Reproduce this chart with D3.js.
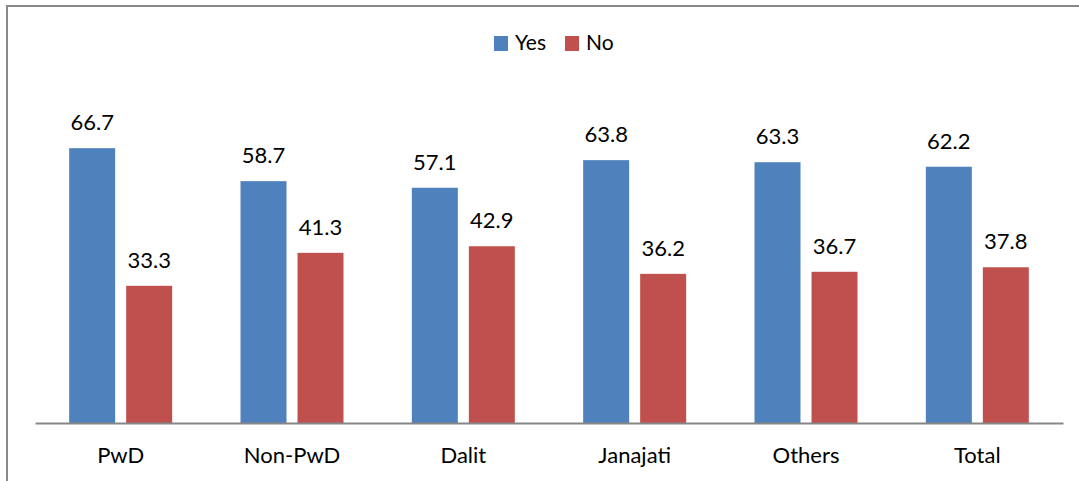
<!DOCTYPE html>
<html>
<head>
<meta charset="utf-8">
<script src="https://cdn.jsdelivr.net/npm/d3@7"></script>
<style>
  body { margin: 0; background: #fff; }
  svg { display: block; font-family: Lato, "Open Sans", sans-serif; }
</style>
</head>
<body>
<svg id="chart" width="1079" height="481"></svg>
<script>
// chart data
const categories = ['PwD', 'Non-PwD', 'Dalit', 'Janajati', 'Others', 'Total'];
const seriesNames = ['Yes', 'No'];
const yesValues = [66.7, 58.7, 57.1, 63.8, 63.3, 62.2];
const noValues = [33.3, 41.3, 42.9, 36.2, 36.7, 37.8];
const colors = ['#4F81BD', '#C0504D'];

const svg = d3.select('#chart');

// outer frame (right and bottom edges fall outside the picture)
svg.append('path')
  .attr('d', 'M7,500 V6 H1085')
  .attr('fill', 'none')
  .attr('stroke', '#898989')
  .attr('stroke-width', 2);

const baseY = 423;
const x0 = d3.scaleBand().domain(categories).range([35, 1063]).paddingInner(0).paddingOuter(0);
const barW = 46, barGap = 11;
const y = d3.scaleLinear().domain([0, 80]).range([baseY, baseY - 80 * 4.12]);

const rows = categories.map((c, i) => ({ cat: c, vals: [yesValues[i], noValues[i]] }));

const groups = svg.selectAll('.grp')
  .data(rows)
  .enter()
  .append('g')
  .attr('class', 'grp')
  .attr('transform', d => `translate(${x0(d.cat) + x0.bandwidth() / 2},0)`);

const bars = groups.selectAll('.bar')
  .data(d => d.vals.map((v, k) => ({ v, k })))
  .enter();

const barX = k => k === 0 ? -(barW + barGap / 2) : barGap / 2;

bars.append('rect')
  .attr('x', d => barX(d.k))
  .attr('y', d => y(d.v))
  .attr('width', barW)
  .attr('height', d => baseY - y(d.v))
  .attr('fill', d => colors[d.k]);

bars.append('text')
  .attr('x', d => barX(d.k) + barW / 2)
  .attr('y', d => y(d.v) - 18)
  .attr('text-anchor', 'middle')
  .attr('font-size', 22)
  .attr('fill', '#000')
  .text(d => d.v.toFixed(1));

// category axis
const xAxis = svg.append('g')
  .attr('transform', `translate(0,${baseY})`)
  .call(d3.axisBottom(x0).tickSize(0).tickPadding(24));
xAxis.select('.domain').attr('stroke', '#868686').attr('stroke-width', 2);
xAxis.selectAll('text')
  .attr('font-size', 22)
  .attr('font-family', 'Lato, "Open Sans", sans-serif')
  .attr('fill', '#000');

// legend
const legendX = [494, 565];
const legend = svg.selectAll('.legend')
  .data(seriesNames)
  .enter()
  .append('g')
  .attr('class', 'legend')
  .attr('transform', (d, i) => `translate(${legendX[i]},36)`);
legend.append('rect')
  .attr('width', 14)
  .attr('height', 15)
  .attr('fill', (d, i) => colors[i]);
legend.append('text')
  .attr('x', 21)
  .attr('y', 14)
  .attr('font-size', 21)
  .text(d => d);
</script>
</body>
</html>
